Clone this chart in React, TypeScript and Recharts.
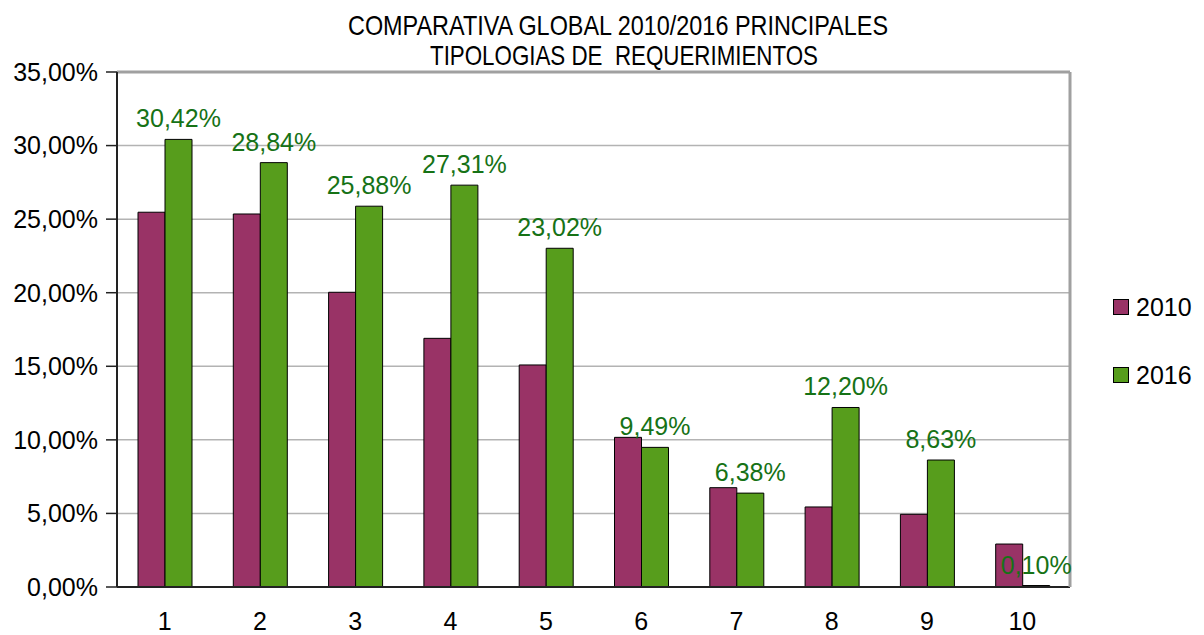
import React from 'react';
import { BarChart, Bar, XAxis, YAxis, CartesianGrid, Legend, LabelList } from 'recharts';

const categories = ['1', '2', '3', '4', '5', '6', '7', '8', '9', '10'];
const values2010 = [25.47, 25.35, 20.03, 16.9, 15.09, 10.17, 6.75, 5.44, 4.94, 2.92];
const values2016 = [30.42, 28.84, 25.88, 27.31, 23.02, 9.49, 6.38, 12.2, 8.63, 0.1];
const yTicks = [0, 5, 10, 15, 20, 25, 30, 35];
const boundaryTicks = [0, 1, 2, 3, 4, 5, 6, 7, 8, 9, 10];
const titleLines = ['COMPARATIVA GLOBAL 2010/2016 PRINCIPALES', 'TIPOLOGIAS DE  REQUERIMIENTOS'];

const series = [
  { key: 'v2010', name: '2010', color: '#993366' },
  { key: 'v2016', name: '2016', color: '#579d1c' },
];

const data = categories.map((name, i) => ({ name, v2010: values2010[i], v2016: values2016[i] }));

const fmt = (v: number) => `${Number(v).toFixed(2).replace('.', ',')}%`;

const FONT = '"Liberation Sans", Arial, sans-serif';

const renderLegend = () => (
  <div style={{ fontFamily: FONT, fontSize: 25, color: '#000' }}>
    {series.map((s, i) => (
      <div
        key={s.key}
        style={{ display: 'flex', alignItems: 'center', height: 34, marginBottom: i === 0 ? 34 : 0 }}
      >
        <span
          style={{
            display: 'inline-block',
            width: 14,
            height: 14,
            border: '1px solid #000',
            background: s.color,
            marginRight: 7,
          }}
        />
        <span style={{ lineHeight: '34px' }}>{s.name}</span>
      </div>
    ))}
  </div>
);

export default function App() {
  return (
    <div style={{ position: 'absolute', left: 0, top: 0, width: 1204, height: 635, background: '#fff' }}>
      <BarChart
        width={1204}
        height={635}
        data={data}
        margin={{ top: 71, right: 133, bottom: 0, left: 10 }}
        barGap={0}
      >
        <CartesianGrid xAxisId="cat" yAxisId="left" vertical={false} stroke="#b3b3b3" strokeWidth={1.5} />
        <XAxis
          xAxisId="bnd"
          type="number"
          domain={[0, 10]}
          allowDataOverflow
          ticks={boundaryTicks}
          interval={0}
          height={1}
          tick={false}
          tickSize={10}
          tickLine={{ stroke: '#222', strokeWidth: 1.5 }}
          axisLine={{ stroke: '#222', strokeWidth: 2 }}
        />
        <XAxis
          xAxisId="cat"
          dataKey="name"
          height={47}
          axisLine={false}
          tickLine={false}
          tickSize={0}
          tickMargin={24}
          interval={0}
          tick={{ fontSize: 25, fill: '#000', fontFamily: FONT }}
        />
        <XAxis
          xAxisId="top"
          dataKey="name"
          orientation="top"
          height={1}
          tick={false}
          tickLine={false}
          axisLine={{ stroke: '#a0a0a0', strokeWidth: 3 }}
        />
        <YAxis
          yAxisId="left"
          domain={[0, 35]}
          ticks={yTicks}
          interval={0}
          width={107}
          tickSize={11}
          tickMargin={8}
          tickFormatter={fmt}
          tick={{ fontSize: 25, fill: '#000', fontFamily: FONT }}
          tickLine={{ stroke: '#222', strokeWidth: 1.5 }}
          axisLine={{ stroke: '#222', strokeWidth: 2 }}
        />
        <YAxis
          yAxisId="right"
          orientation="right"
          domain={[0, 35]}
          allowDataOverflow
          width={1}
          tick={false}
          tickLine={false}
          axisLine={{ stroke: '#a0a0a0', strokeWidth: 3 }}
        />
        <Legend
          layout="horizontal"
          verticalAlign="middle"
          align="center"
          content={renderLegend}
          wrapperStyle={{ left: 1113, top: 290, width: 91 }}
        />
        <Bar
          xAxisId="cat"
          yAxisId="left"
          dataKey="v2010"
          name="2010"
          fill="#993366"
          stroke="#000"
          strokeWidth={1}
          barSize={27}
          isAnimationActive={false}
        />
        <Bar
          xAxisId="cat"
          yAxisId="left"
          dataKey="v2016"
          name="2016"
          fill="#579d1c"
          stroke="#000"
          strokeWidth={1}
          barSize={27}
          isAnimationActive={false}
        >
          <LabelList
            dataKey="v2016"
            position="top"
            offset={12}
            formatter={(v: any) => fmt(v)}
            style={{ fontSize: 25, fill: '#167216', fontFamily: FONT }}
          />
        </Bar>
      </BarChart>
      <svg
        width={1204}
        height={80}
        style={{ position: 'absolute', left: 0, top: 0, pointerEvents: 'none' }}
      >
        <text
          x={618}
          y={35}
          textAnchor="middle"
          fontFamily={FONT}
          fontSize={28}
          fill="#000"
          textLength={540}
          lengthAdjust="spacingAndGlyphs"
        >
          {titleLines[0]}
        </text>
        <text
          x={624}
          y={65}
          textAnchor="middle"
          fontFamily={FONT}
          fontSize={28}
          fill="#000"
          textLength={388}
          lengthAdjust="spacingAndGlyphs"
          style={{ whiteSpace: 'pre' }}
        >
          {titleLines[1]}
        </text>
      </svg>
    </div>
  );
}
